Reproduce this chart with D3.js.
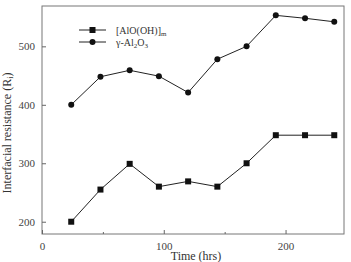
<!DOCTYPE html>
<html>
<head>
<meta charset="utf-8">
<script src="https://cdn.jsdelivr.net/npm/d3@7"></script>
<style>
  body { margin: 0; background: #fff; }
  svg text { font-family: "Liberation Serif", "Times New Roman", serif !important; }
</style>
</head>
<body>
<div id="chart"></div>
<script>
const hours = [24, 48, 72, 96, 120, 144, 168, 192, 216, 240]
const aloohValues = [200, 255, 299, 260, 269, 260, 300, 348, 348, 348]
const gammaValues = [400, 448, 459, 449, 421, 478, 500, 553, 548, 542]
const xTicks = [0, 100, 200]
const xMinorTicks = [50, 150]
const yTicks = [200, 300, 400, 500]

const dimensions = ({
  width: 351,
  height: 262,
  margin: { top: 6, right: 7, bottom: 28, left: 42 }
})
const w = dimensions.width - dimensions.margin.left - dimensions.margin.right
const h = dimensions.height - dimensions.margin.top - dimensions.margin.bottom

const x = d3.scaleLinear().domain([0, 248]).range([0, w])
const y = d3.scaleLinear().domain([179, 569]).range([h, 0])

const svg = d3.select("#chart")
  .append("svg")
    .attr("width", dimensions.width)
    .attr("height", dimensions.height)
  .append("g")
    .attr("transform", "translate(" + dimensions.margin.left + "," + dimensions.margin.top + ")")

// frame
svg.append("rect")
  .attr("width", w).attr("height", h)
  .attr("fill", "none").attr("stroke", "#777").attr("stroke-width", 1)

// x axis, ticks inward
const xAxis = svg.append("g")
  .attr("transform", "translate(0," + h + ")")
  .call(d3.axisBottom(x).tickValues(xTicks).tickSize(-4).tickPadding(8))
xAxis.select(".domain").remove()
xAxis.selectAll("line").attr("stroke", "#666")
xAxis.selectAll("text").attr("font-size", 11).attr("fill", "#444")

svg.append("g")
  .attr("transform", "translate(0," + h + ")")
  .call(d3.axisBottom(x).tickValues(xMinorTicks).tickSize(-2).tickFormat(""))
  .call(g => g.select(".domain").remove())
  .selectAll("line").attr("stroke", "#666")

const yAxis = svg.append("g")
  .call(d3.axisLeft(y).tickValues(yTicks).tickSize(-4).tickPadding(7))
yAxis.select(".domain").remove()
yAxis.selectAll("line").attr("stroke", "#666")
yAxis.selectAll("text").attr("font-size", 11).attr("fill", "#444")

// axis titles
svg.append("text")
  .attr("x", w / 2 + 3).attr("y", h + 26)
  .attr("text-anchor", "middle").attr("font-size", 12).attr("fill", "#333")
  .text("Time (hrs)")

const yTitle = svg.append("text")
  .attr("transform", "translate(-31," + (h / 2 + 13) + ") rotate(-90)")
  .attr("text-anchor", "middle").attr("font-size", 12).attr("fill", "#333")
yTitle.append("tspan").text("Interfacial resistance (R")
yTitle.append("tspan").attr("font-size", 8).attr("dy", 2).text("i")
yTitle.append("tspan").attr("dy", -2).text(")")

const line = d3.line().x((d, i) => x(hours[i])).y(d => y(d))

// alooh series (squares)
svg.append("path").datum(aloohValues)
  .attr("d", line).attr("fill", "none").attr("stroke", "#222").attr("stroke-width", 1)
svg.append("g").selectAll("rect")
  .data(aloohValues)
  .enter().append("rect")
    .attr("x", (d, i) => x(hours[i]) - 3)
    .attr("y", d => y(d) - 3)
    .attr("width", 6).attr("height", 6)
    .attr("fill", "#111")

// gamma series (circles)
svg.append("path").datum(gammaValues)
  .attr("d", line).attr("fill", "none").attr("stroke", "#222").attr("stroke-width", 1)
svg.append("g").selectAll("circle")
  .data(gammaValues)
  .enter().append("circle")
    .attr("cx", (d, i) => x(hours[i]))
    .attr("cy", d => y(d))
    .attr("r", 3)
    .attr("fill", "#111")

// legend
const legend = svg.append("g").attr("transform", "translate(37, 24)")
legend.append("line").attr("x1", 0).attr("x2", 27).attr("y1", 0).attr("y2", 0).attr("stroke", "#222")
legend.append("rect").attr("x", 10.5).attr("y", -3).attr("width", 6).attr("height", 6).attr("fill", "#111")
legend.append("line").attr("x1", 0).attr("x2", 27).attr("y1", 12).attr("y2", 12).attr("stroke", "#222")
legend.append("circle").attr("cx", 13.5).attr("cy", 12).attr("r", 3).attr("fill", "#111")

const t1 = legend.append("text").attr("x", 37).attr("y", 3.5).attr("font-size", 10).attr("fill", "#333")
t1.append("tspan").text("[AlO(OH)]")
t1.append("tspan").attr("font-size", 7).attr("dy", 2.5).text("m")

const t2 = legend.append("text").attr("x", 37).attr("y", 15.5).attr("font-size", 10).attr("fill", "#333")
t2.append("tspan").text("γ-Al")
t2.append("tspan").attr("font-size", 7).attr("dy", 2.5).text("2")
t2.append("tspan").attr("dy", -2.5).text("O")
t2.append("tspan").attr("font-size", 7).attr("dy", 2.5).text("3")
</script>
</body>
</html>
